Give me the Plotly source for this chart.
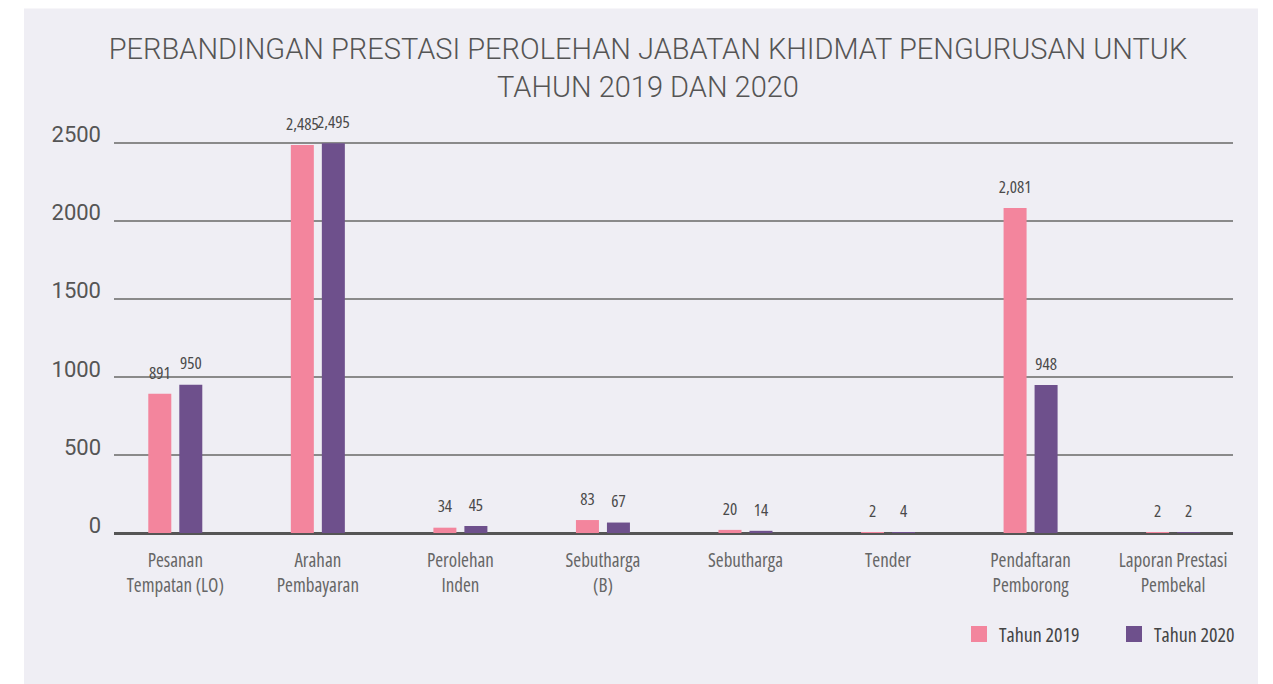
import plotly.graph_objects as go

categories = ["Pesanan<br>Tempatan (LO)", "Arahan<br>Pembayaran", "Perolehan<br>Inden",
              "Sebutharga<br>(B)", "Sebutharga", "Tender", "Pendaftaran<br>Pemborong",
              "Laporan Prestasi<br>Pembekal"]
tahun_2019 = [891, 2485, 34, 83, 20, 2, 2081, 2]
tahun_2020 = [950, 2495, 45, 67, 14, 4, 948, 2]
y_ticks = [0, 500, 1000, 1500, 2000, 2500]
series_names = ["Tahun 2019", "Tahun 2020"]

PINK = "#F3859D"
PURPLE = "#6E508C"
PANEL = "#EFEEF4"
COND = "'Open Sans', Roboto, sans-serif"   # drawn at 75% width via font-stretch below
GAP = 0.565

x_idx = list(range(len(categories)))

fig = go.Figure()
for name, vals, col, grp in [(series_names[0], tahun_2019, PINK, "g2019"),
                             (series_names[1], tahun_2020, PURPLE, "g2020")]:
    fig.add_trace(go.Bar(
        x=x_idx, y=vals, name=name, marker_color=col, marker_line_width=0,
        offsetgroup=grp, showlegend=False, hoverinfo="x+y",
    ))
    # value labels, grouped like the bars
    fig.add_trace(go.Scatter(
        x=x_idx, y=vals, mode="markers+text", offsetgroup=grp, name=name,
        text=[f"{v:,}" for v in vals], textposition="top center",
        textfont=dict(family=COND, size=17, color="#4a4a4a"),
        marker=dict(size=16, color="rgba(0,0,0,0)"),
        cliponaxis=False, showlegend=False, hoverinfo="skip",
    ))
    # legend entry
    fig.add_trace(go.Scatter(
        x=[None], y=[None], mode="markers", name=name, offsetgroup=grp,
        marker=dict(symbol="square", size=18, color=col),
    ))

# the page body has an 8px margin, so the figure is laid out 8px up/left of the reference
W, H = 1265, 676
x_left, x_right = 106, 1225
y_zero, y_top_tick = 525, 135
y_max = 2510
ph = (y_zero - y_top_tick) * y_max / 2500
ml, mr = x_left, W - x_right
mb = H - y_zero
mt = y_zero - ph
pw = x_right - x_left

fig.add_shape(type="rect", xref="paper", yref="paper",
              x0=(16 - ml) / pw, x1=(1250 - ml) / pw,
              y0=-(mb) / ph, y1=(y_zero - 1) / ph,
              fillcolor=PANEL, line_width=0, layer="below")

fig.update_layout(
    width=W, height=H,
    margin=dict(l=ml, r=mr, t=mt, b=mb),
    paper_bgcolor="white", plot_bgcolor=PANEL,
    barmode="group", bargap=GAP, bargroupgap=0.258,
    scattermode="group", scattergap=GAP,
    title=dict(text="PERBANDINGAN PRESTASI PEROLEHAN JABATAN KHIDMAT PENGURUSAN UNTUK<br>TAHUN 2019 DAN 2020",
               x=640 / W, xref="container", xanchor="center",
               y=1 - 51 / H, yref="container", yanchor="middle",
               font=dict(family="Roboto, Lato, sans-serif", size=29, color="#555555", weight=300)),
    legend=dict(orientation="h", xref="container", yref="container",
                x=951 / W, xanchor="left", y=1 - 626 / H, yanchor="middle",
                font=dict(family=COND, size=20, color="#444444"),
                entrywidth=110, entrywidthmode="pixels",
                bgcolor="rgba(0,0,0,0)", itemclick=False, traceorder="normal"),
    showlegend=True,
)
fig.update_xaxes(
    tickvals=x_idx, ticktext=categories, range=[-0.43, 7.42],
    showgrid=False, showline=False, zeroline=False, ticks="",
    tickfont=dict(family=COND, size=19, color="#666666"),
    ticklabelstandoff=14, fixedrange=True,
)
fig.update_yaxes(
    range=[0, y_max], tickvals=y_ticks, ticktext=[str(t) for t in y_ticks],
    showgrid=True, gridcolor="#8a8a8a", gridwidth=1.5,
    zeroline=True, zerolinecolor="#555555", zerolinewidth=3,
    showline=False, ticks="",
    tickfont=dict(family="Roboto, Lato, sans-serif", size=22, color="#555555"),
    ticklabelshift=-8, ticklabelstandoff=12, fixedrange=True,
)

# condensed (75% width) rendering for category labels, value labels and legend text
css_js = """
var st = document.createElement('style');
st.textContent = '.xtick text, .legendtext, .scatterlayer text {font-stretch: 75%;}';
document.head.appendChild(st);
var gd = document.getElementById('{plot_id}');
function condense() {
  gd.querySelectorAll('.xtick text, .legendtext, .scatterlayer text').forEach(function (t) {
    t.style.fontStretch = '75%';
  });
}
condense();
setTimeout(condense, 0);
setTimeout(condense, 200);
"""
fig.write_html("out.html", post_script=css_js)
